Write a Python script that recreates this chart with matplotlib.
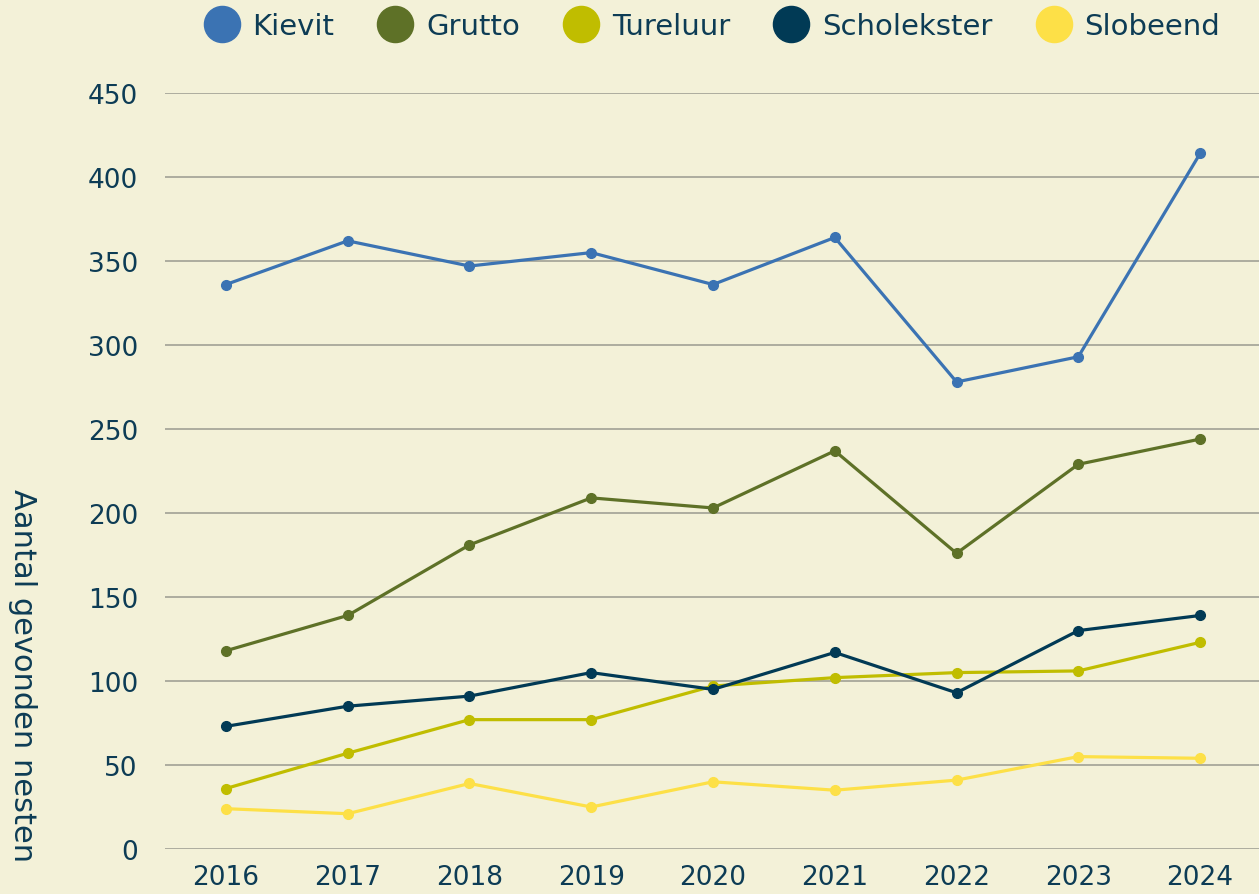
import matplotlib
matplotlib.use("Agg")
import matplotlib.pyplot as plt
from matplotlib.lines import Line2D

# ── data ──────────────────────────────────────────────────────────────
years = ["2016", "2017", "2018", "2019", "2020", "2021", "2022", "2023", "2024"]
kievit = [336, 362, 347, 355, 336, 364, 278, 293, 414]
grutto = [118, 139, 181, 209, 203, 237, 176, 229, 244]
tureluur = [36, 57, 77, 77, 97, 102, 105, 106, 123]
scholekster = [73, 85, 91, 105, 95, 117, 93, 130, 139]
slobeend = [24, 21, 39, 25, 40, 35, 41, 55, 54]

series_names = ["Kievit", "Grutto", "Tureluur", "Scholekster", "Slobeend"]
colors = ["#3b73b3", "#5e7127", "#c0bd00", "#013a55", "#fde047"]
yticks = [0, 50, 100, 150, 200, 250, 300, 350, 400, 450]

BG = "#f3f1d8"
TXT = "#0d3c55"
GRID = "#9a9a90"

plt.rcParams['font.family'] = ['DejaVu Sans']

fig = plt.figure(figsize=(12.59, 8.95), dpi=100, facecolor=BG)
ax = fig.add_axes([165 / 1259, 45 / 895, 1096 / 1259, 756 / 895])
ax.set_facecolor(BG)

x = range(len(years))
for name, vals, c in zip(series_names, [kievit, grutto, tureluur, scholekster, slobeend], colors):
    ax.plot(x, vals, color=c, lw=2.3, marker='o', ms=7, label=name,
            solid_capstyle='round', zorder=3)

ax.set_xlim(-0.5, len(years) - 0.5)
ax.set_ylim(0, 450)
ax.set_yticks(yticks)
ax.set_xticks(list(x))
ax.set_xticklabels(years)
ax.grid(axis='y', color=GRID, lw=1.1)
ax.set_axisbelow(True)
for s in ax.spines.values():
    s.set_visible(False)
ax.tick_params(axis='both', length=0, labelsize=19, labelcolor=TXT)
ax.tick_params(axis='y', pad=19.5)
ax.tick_params(axis='x', pad=11)

fig.text(22 / 1259, 1 - 676 / 895, "Aantal gevonden nesten", rotation=-90,
         ha='center', va='center', fontsize=22, color=TXT)

handles = [Line2D([], [], ls='none', marker='o', ms=26, color=c, mec=c) for c in colors]
leg = fig.legend(handles, series_names, loc='center', bbox_to_anchor=(712 / 1259, 1 - 27 / 895),
                 ncol=5, frameon=False, fontsize=21, handletextpad=0.45, columnspacing=1.5,
                 handlelength=1.2)
for t in leg.get_texts():
    t.set_color(TXT)

fig.savefig("out.png", dpi=100, facecolor=BG)
